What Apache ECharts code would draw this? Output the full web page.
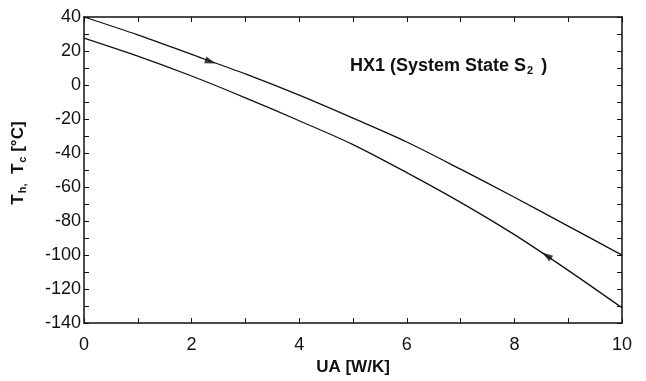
<!DOCTYPE html>
<html>
<head>
<meta charset="utf-8">
<script src="https://cdn.jsdelivr.net/npm/echarts@6/dist/echarts.min.js"></script>
<style>
  html, body { margin: 0; padding: 0; background: #fff; }
  #chart { width: 646px; height: 381px; }
</style>
</head>
<body>
<div id="chart"></div>
<script>
// UA values [W/K]
const ua = [0, 1, 2, 3, 4, 5, 6, 7, 8, 9, 10];
// hot side temperature Th [°C]
const tHot = [40, 29.5, 18, 6.5, -6, -19.5, -33.5, -49.5, -66, -83, -100];
// cold side temperature Tc [°C]
const tCold = [27.6, 17, 5.3, -7.5, -21, -35, -51.5, -69, -88, -109, -131];

// flow direction arrows
const arrowX = [2.35, 8.6];
const arrowY = [13.7, -100.3];
const arrowRot = [-110, 56];

const xTicks = [0, 2, 4, 6, 8, 10];
const yTicks = [-140, -120, -100, -80, -60, -40, -20, 0, 20, 40];

const font = "'Liberation Sans', Arial, sans-serif";
const ink = "#111";

const chart = echarts.init(document.getElementById("chart"));

const tickCfg = {
  axisLine: { show: true, onZero: false, lineStyle: { color: ink, width: 1.5 } },
  axisTick: { show: true, inside: true, length: 5, lineStyle: { color: ink, width: 1 } },
  minorTick: { show: true, splitNumber: 2, length: 5, lineStyle: { color: ink, width: 1 } },
  splitLine: { show: false },
};

const option = {
  animation: false,
  backgroundColor: "#fff",
  title: {
    text: "{a|HX1 (System State S}{b|2}{a| )}",
    left: 345,
    top: 51,
    textStyle: {
      rich: {
        a: { fontFamily: font, fontSize: 18, fontWeight: "bold", color: ink },
        b: { fontFamily: font, fontSize: 11, fontWeight: "bold", color: ink, padding: [9, 3, 0, 1] },
      },
    },
  },
  grid: { left: 84, right: 24, top: 17, bottom: 54 },
  xAxis: [
    {
      type: "value",
      min: xTicks[0],
      max: xTicks[xTicks.length - 1],
      interval: 2,
      position: "bottom",
      name: "UA [W/K]",
      nameLocation: "middle",
      nameGap: 31,
      nameTextStyle: { fontFamily: font, fontSize: 17, fontWeight: "bold", color: ink },
      axisLabel: { fontFamily: font, fontSize: 18, color: ink, margin: 13 },
      ...tickCfg,
    },
    {
      type: "value",
      min: xTicks[0],
      max: xTicks[xTicks.length - 1],
      interval: 2,
      position: "top",
      axisLabel: { show: false },
      ...tickCfg,
    },
  ],
  yAxis: [
    {
      type: "value",
      min: yTicks[0],
      max: yTicks[yTicks.length - 1],
      interval: 20,
      position: "left",
      name: "{t|T}{s|h,}{t|  T}{s|c}{t| [°C]}",
      nameLocation: "middle",
      nameGap: 56,
      nameTextStyle: {
        padding: [0, 0, 0, 14],
        rich: {
          t: { fontFamily: font, fontSize: 17, fontWeight: "bold", color: ink },
          s: { fontFamily: font, fontSize: 11, fontWeight: "bold", color: ink, padding: [8, 0, 0, 1] },
        },
      },
      axisLabel: { fontFamily: font, fontSize: 18, color: ink, margin: 3 },
      ...tickCfg,
    },
    {
      type: "value",
      min: yTicks[0],
      max: yTicks[yTicks.length - 1],
      interval: 20,
      position: "right",
      axisLabel: { show: false },
      ...tickCfg,
    },
  ],
  series: [
    {
      name: "Th",
      type: "line",
      data: ua.map((x, i) => [x, tHot[i]]),
      smooth: 0.3,
      showSymbol: false,
      lineStyle: { color: ink, width: 1.3 },
    },
    {
      name: "Tc",
      type: "line",
      data: ua.map((x, i) => [x, tCold[i]]),
      smooth: 0.3,
      showSymbol: false,
      lineStyle: { color: ink, width: 1.3 },
    },
    {
      name: "flow",
      type: "scatter",
      data: arrowX.map((x, i) => ({ value: [x, arrowY[i]], symbolRotate: arrowRot[i] })),
      symbol: "triangle",
      symbolSize: [7, 11],
      itemStyle: { color: ink },
    },
  ],
};

chart.setOption(option);
</script>
</body>
</html>
